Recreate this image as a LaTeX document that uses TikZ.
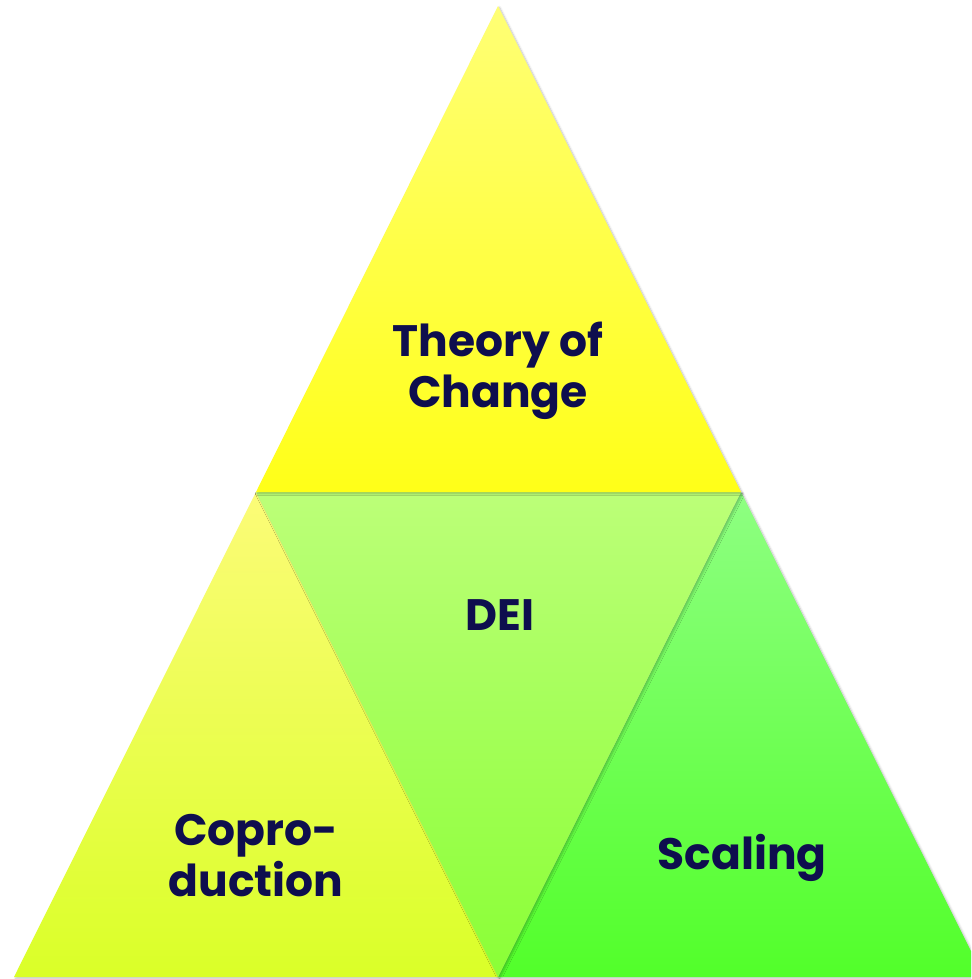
\documentclass[tikz,border=0pt]{standalone}
\usepackage{fontspec}
\setmainfont{Poppins}
\usetikzlibrary{shadows.blur}
\definecolor{ink}{HTML}{0E0E4E}
\definecolor{topA}{HTML}{FFFF75}
\definecolor{topB}{HTML}{FFFF18}
\definecolor{leftA}{HTML}{FCFC78}
\definecolor{leftB}{HTML}{DAFF28}
\definecolor{midA}{HTML}{BCFF78}
\definecolor{midB}{HTML}{8AFF36}
\definecolor{rightA}{HTML}{8EFF82}
\definecolor{rightB}{HTML}{52FF2A}
\tikzset{
  tri/.style={blur shadow={shadow xshift=1.5pt,shadow yshift=-1.5pt,shadow blur steps=6,shadow opacity=25}},
  label/.style={text=ink,font=\fontsize{44}{51}\selectfont\bfseries,align=center,inner sep=0pt}
}
\begin{document}
\begin{tikzpicture}[x=1pt,y=-1pt]
  \useasboundingbox (0,0) rectangle (971,979);
  % corner points of the pyramid
  \coordinate (apex) at (498,6);
  \coordinate (ml) at (256,492);
  \coordinate (mr) at (741,492);
  \coordinate (bl) at (14,977);
  \coordinate (bm) at (498,977);
  \coordinate (br) at (984,977);
  \begin{scope}
    \clip (0,0) rectangle (971,979);
    \path[tri,top color=leftA,bottom color=leftB] (ml) -- (bm) -- (bl) -- cycle;
    \path[tri,top color=rightA,bottom color=rightB] (mr) -- (br) -- (bm) -- cycle;
    \path[tri,top color=midA,bottom color=midB] (ml) -- (mr) -- (bm) -- cycle;
    \path[tri,top color=topA,bottom color=topB] (apex) -- (mr) -- (ml) -- cycle;
  \end{scope}
  \node[label] (toc) at (498,371) {Theory of\\Change};
  \node[label] (dei) at (500,615) {DEI};
  \node[label] (cop) at (256,856) {Copro-\\duction};
  \node[label] (sca) at (742,858) {Scaling};
\end{tikzpicture}
\end{document}
